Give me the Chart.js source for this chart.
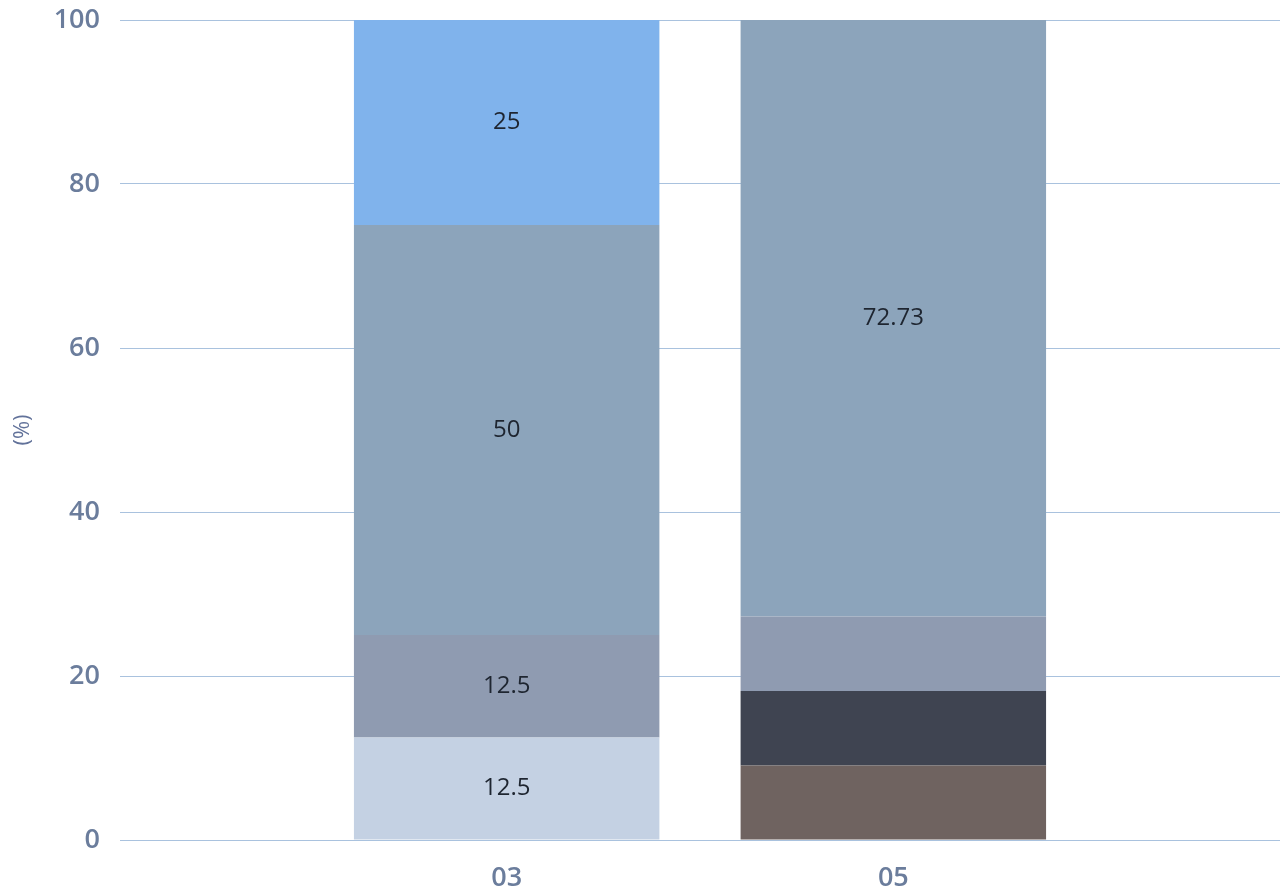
<!DOCTYPE html>
<html>
<head>
<meta charset="utf-8">
<script src="https://cdn.jsdelivr.net/npm/chart.js@4/dist/chart.umd.min.js"></script>
<style>
  html, body { margin: 0; padding: 0; background: #fff; overflow: hidden; }
  #wrap { width: 1282px; height: 894px; }
  canvas { display: block; }
</style>
</head>
<body>
<div id="wrap"><canvas id="myChart" width="1282" height="894"></canvas></div>
<script>
// categories (blank ones at the ends put the bars at 1/3 and 2/3 of the width)
const categories = ['', '03', '05', ''];

// stacked shares (%), bottom to top
const brown     = [null, 0,    9.09,  null];
const dark      = [null, 0,    9.09,  null];
const lightGray = [null, 12.5, 0,     null];
const gray      = [null, 12.5, 9.09,  null];
const blueGray  = [null, 50,   72.73, null];
const lightBlue = [null, 25,   0,     null];

const yTicks = [0, 20, 40, 60, 80, 100];

const tickColor = '#6b7d9c';

// draws value text in the middle of each segment (small ones are skipped)
const segLabels = {
    id: 'segLabels',
    afterDatasetsDraw(chart) {
        const c = chart.ctx;
        c.save();
        c.font = '24px "Open Sans"';
        c.fillStyle = '#1e2530';
        c.textAlign = 'center';
        c.textBaseline = 'middle';
        chart.data.datasets.forEach((ds, i) => {
            chart.getDatasetMeta(i).data.forEach((bar, j) => {
                const v = ds.data[j];
                if (v == null || v < 10) return;
                const mid = (bar.y + bar.base) / 2;
                c.fillText(String(v), bar.x, mid);
            });
        });
        c.restore();
    }
};

const ctx = document.getElementById('myChart').getContext('2d');

const data = {
    labels: categories,
    datasets: [
        { label: 'a', data: brown,     backgroundColor: '#6f6360' },
        { label: 'b', data: dark,      backgroundColor: '#3f4451' },
        { label: 'c', data: lightGray, backgroundColor: '#c4d1e3' },
        { label: 'd', data: gray,      backgroundColor: '#8f9bb1' },
        { label: 'e', data: blueGray,  backgroundColor: '#8ca4bb' },
        { label: 'f', data: lightBlue, backgroundColor: '#80b3ec' }
    ]
};

const config = {
    type: 'bar',
    data,
    options: {
        responsive: false,
        animation: false,
        layout: { padding: { top: 20, right: 2, left: 0, bottom: 0 } },
        datasets: { bar: { categoryPercentage: 1, barPercentage: 0.79 } },
        plugins: {
            legend: { display: false },
            tooltip: { enabled: false }
        },
        scales: {
            x: {
                stacked: true,
                offset: false,
                grid: { display: false, drawTicks: true, tickLength: 22 },
                border: { display: false },
                ticks: {
                    color: tickColor,
                    padding: 0,
                    font: { family: 'Open Sans', size: 27, weight: '600' }
                },
                afterFit(scale) { scale.height = 54; }
            },
            y: {
                stacked: true,
                min: 0,
                max: 100,
                afterBuildTicks(scale) { scale.ticks = yTicks.map(v => ({ value: v })); },
                grid: { color: '#a9c2de', lineWidth: 1, drawTicks: true, tickLength: 20, tickColor: 'rgba(0,0,0,0)' },
                border: { display: false },
                ticks: {
                    color: tickColor,
                    padding: 0,
                    font: { family: 'Open Sans', size: 27, weight: '600' }
                },
                title: {
                    display: true,
                    text: '(%)',
                    color: '#62729a',
                    padding: { top: 10, bottom: 0 },
                    font: { family: 'Open Sans', size: 22 }
                },
                afterFit(scale) { scale.width = 120; }
            }
        }
    },
    plugins: [segLabels]
};

let myChart = new Chart(ctx, config);
</script>
</body>
</html>
